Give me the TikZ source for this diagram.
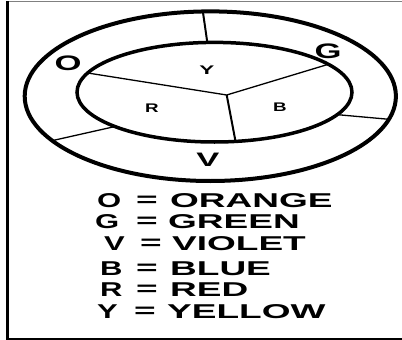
\documentclass[tikz,border=0pt]{standalone}
\usepackage{fontspec}
\setmainfont{Liberation Sans}
\usepackage{graphicx}

\newcommand{\wide}[2]{\scalebox{#1}[1]{#2}}

\begin{document}
\begin{tikzpicture}[x=1pt, y=-1pt,
			ring/.style={line width=4pt},
			split/.style={line width=1.3pt},
			lbl/.style={inner sep=0pt, font=\bfseries\fontsize{#1}{#1}\selectfont}]
			\useasboundingbox (0,0) rectangle (402,340);
			% Rahmen
			\draw[gray, line width=1.5pt] (8,1.6) -- (402,1.6);
			\draw[line width=2.4pt] (7.5,1) -- (7.5,339) -- (402,339);
			% Mittelpunkte
			\coordinate (outC) at (210.3,96.2);
			\coordinate (inC) at (214.5,92.2);
			\coordinate (hub) at (226.7,95);
			% Ringe zeichnen
			\draw[ring] (outC) ellipse [x radius=185.6, y radius=84.8];
			\draw[line width=3.5pt] (inC) ellipse [x radius=137.5, y radius=49.8];
			% Trennlinien
			\coordinate (inTop) at ([shift={(267:137.5 and 49.8)}]inC);
			\coordinate (outTop) at ([shift={(267.7:185.6 and 84.8)}]outC);
			\coordinate (inRight) at ([shift={(26.8:137.5 and 49.8)}]inC);
			\coordinate (outRight) at ([shift={(15.8:185.6 and 84.8)}]outC);
			\coordinate (inLeft) at ([shift={(136.4:137.5 and 49.8)}]inC);
			\coordinate (outLeft) at ([shift={(148.4:185.6 and 84.8)}]outC);
			\coordinate (spokeR) at ([shift={(202.7:137.5 and 49.8)}]inC);
			\coordinate (spokeB) at ([shift={(325.9:137.5 and 49.8)}]inC);
			\coordinate (spokeV) at ([shift={(81.2:137.5 and 49.8)}]inC);
			\draw[line width=2pt] (outTop) -- (inTop);
			\draw[split] (inRight) -- (outRight);
			\draw[split] (inLeft) -- (outLeft);
			\draw[split] (hub) -- (spokeR);
			\draw[split] (hub) -- (spokeB);
			\draw[line width=2pt] (hub) -- (spokeV);
			% Beschriftung im Ring
			\node[lbl=21] (oLbl) at (68,63) {\wide{1.65}{O}};
			\node[lbl=21] (gLbl) at (328,51) {\wide{1.65}{G}};
			\node[lbl=19.5] (vLbl) at (208,160) {\wide{1.77}{V}};
			\node[lbl=12.5] (yLbl) at (207,70) {\wide{1.8}{Y}};
			\node[lbl=12.5] (rLbl) at (152,108) {\wide{1.5}{R}};
			\node[lbl=12.5] (bLbl) at (280,107) {\wide{1.5}{B}};
			% Legende
			\foreach \k/\w/\kx/\ex/\wx/\ly in {O/ORANGE/97/136/170/201, G/GREEN/95/136/168/222,
					V/VIOLET/104/140/172/244, B/BLUE/100/136/170/269,
					R/RED/100/136/170/290, Y/YELLOW/97/134/167/312}
			{
				\node[lbl=20, anchor=west] (key\k) at (\kx,\ly) {\wide{1.55}{\k}};
				\node[lbl=20, anchor=west] (eq\k) at (\ex,\ly) {\wide{1.85}{=}};
				\node[lbl=20, anchor=west] (name\k) at (\wx,\ly) {\wide{1.85}{\w}};
			}
		\end{tikzpicture}
\end{document}
